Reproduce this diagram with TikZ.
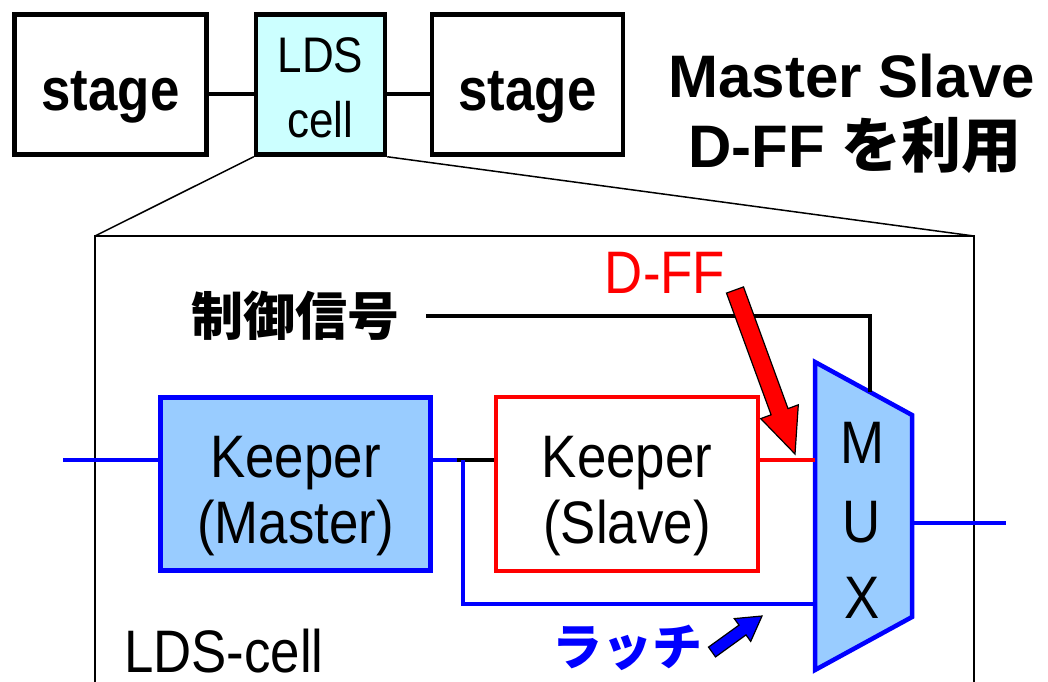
\documentclass[tikz,border=0pt]{standalone}
\usepackage{fontspec}
\setmainfont{Liberation Sans}[FakeStretch=0.88]
\newfontfamily\widesf{Liberation Sans}
\newfontfamily\jp{Noto Sans CJK JP}
\usepackage{xcolor}
\usepackage{tikz}
\definecolor{cellcyan}{HTML}{CCFFFF}
\definecolor{keepblue}{HTML}{99CCFF}

\tikzset{
  blk/.style={draw,line width=4.5pt,inner sep=0pt},
  txt/.style={inner sep=0pt,font=\fontsize{60}{66}\selectfont},
  wire/.style={line width=4pt},
  thin/.style={line width=1.5pt}
}

\begin{document}
\begin{tikzpicture}[x=1pt,y=-1pt]
\useasboundingbox (0,0) rectangle (1048,681);

% upper row
\node[blk,minimum width=192pt,minimum height=140pt] (st1) at (110.5,84.5) {};
\node[blk,fill=cellcyan,minimum width=129pt,minimum height=140pt] (lds) at (320.5,84.5) {};
\node[blk,minimum width=191pt,minimum height=140pt] (st2) at (527.5,84.5) {};
\node[txt,anchor=base,font=\fontsize{60}{66}\selectfont\bfseries] (st1t) at (st1 |- 0,110) {stage};
\node[txt,anchor=base,font=\fontsize{60}{66}\selectfont\bfseries] (st2t) at (st2 |- 0,110) {stage};
\node[txt,anchor=base,font=\fontsize{50}{60}\selectfont] (ldst) at (lds |- 0,72) {LDS};
\node[txt,anchor=base,font=\fontsize{50}{60}\selectfont] (cellt) at (lds |- 0,137) {cell};
\draw[wire] ([yshift=-9.5pt]st1.east) -- ([yshift=-9.5pt]lds.west);
\draw[wire] ([yshift=-9.5pt]lds.east) -- ([yshift=-9.5pt]st2.west);

\node[txt,anchor=base,font=\widesf\fontsize{60}{66}\selectfont\bfseries] (ms1) at (852,97) {Master Slave};
\node[txt,anchor=base,font=\widesf\fontsize{60}{66}\selectfont\bfseries] (ms2) at (855,167) {D-FF {\jp を利用}};

% zoomed cell
\coordinate (zl) at (95,236);
\coordinate (zr) at (974,236);
\draw[thin] (lds.south west) -- (zl);
\draw[thin] (lds.south east) -- (zr);
\draw[thin] (95,690) -- (zl) -- (zr) -- (974,690);

\node[blk,draw=blue,fill=keepblue,minimum width=270pt,minimum height=173pt] (master) at (295.5,484) {};
\node[blk,draw=red,line width=4pt,fill=white,minimum width=262pt,minimum height=174pt] (slave) at (627,484) {};
\node[txt,anchor=base] (mk) at (master |- 0,477) {Keeper};
\node[txt,anchor=base] (mm) at (master |- 0,543) {(Master)};
\node[txt,anchor=base] (sk) at (slave |- 0,477) {Keeper};
\node[txt,anchor=base] (ss) at (slave |- 0,543) {(Slave)};

% multiplexer
\coordinate (m1) at (815,362);
\coordinate (m2) at (912,415);
\coordinate (m3) at (912,617);
\coordinate (m4) at (815,670);
\draw[line width=4.5pt,draw=blue,fill=keepblue,line join=miter] (m1) -- (m2) -- (m3) -- (m4) -- cycle;
\node[txt,anchor=base] (mx1) at (862,463) {M};
\node[txt,anchor=base] (mx2) at (862,542) {U};
\node[txt,anchor=base] (mx3) at (862,618) {X};

% control
\node[inner sep=0pt,font=\jp\fontsize{52}{60}\selectfont\bfseries] (ctl) at (295,316) {制御信号};
\coordinate (mtop) at (870,392);
\draw[wire] ([xshift=27pt]ctl.east) -| (mtop);

% wires
\coordinate (in) at (63,460);
\coordinate (br) at (463,460);
\coordinate (lt) at (815,604);
\coordinate (out) at (1006,523);
\draw[wire,blue] (in) -- (master.west |- in);
\draw[wire,blue] (master.east |- br) -- (br);
\draw[wire] ([xshift=-6pt]br) -- (slave.west |- br);
\draw[wire,blue] (br) |- (lt);
\draw[wire,red] (slave.east |- br) -- (m1 |- br);
\draw[wire,blue] (m2 |- out) -- (out);

% labels and pointers
\node[txt,anchor=base,red] (dff) at (665,293) {D-FF};
\draw[fill=red,line width=1.2pt,line join=miter]
  (726.5,293.1) -- (771.1,414.8) -- (760.7,418.6) -- (795,454)
  -- (798.3,404.8) -- (788.0,408.6) -- (743.5,286.9) -- cycle;
\node[inner sep=0pt,blue,font=\jp\fontsize{50}{60}\selectfont\bfseries] (latch) at (627,648) {ラッチ};
\draw[fill=blue,line width=1.2pt,line join=miter]
  (715.5,656.9) -- (746.0,634.9) -- (750.7,641.4) -- (762,616)
  -- (734.3,618.6) -- (739.0,625.1) -- (708.5,647.1) -- cycle;
\node[txt,anchor=base] (cellname) at (224,672) {LDS-cell};
\end{tikzpicture}
\end{document}
